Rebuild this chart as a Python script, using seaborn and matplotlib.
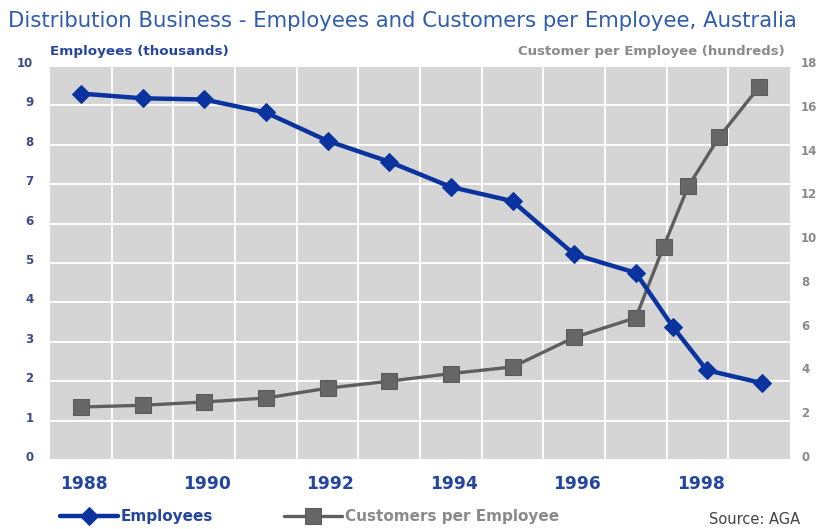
import matplotlib
matplotlib.use("Agg")
import matplotlib.pyplot as plt
import matplotlib.transforms as mtransforms
import seaborn as sns
import pandas as pd
import numpy as np

# Employees (thousands), left axis
emp_years = [1988, 1989, 1990, 1991, 1992, 1993, 1994, 1995, 1996, 1997, 1997.6, 1998.15, 1999.05]
employees = [9.3, 9.18, 9.15, 8.82, 8.1, 7.57, 6.93, 6.57, 5.22, 4.75, 3.38, 2.28, 1.95]

# Customers per employee (hundreds), right axis
cust_years = [1988, 1989, 1990, 1991, 1992, 1993, 1994, 1995, 1996, 1997, 1997.45, 1997.85, 1998.35, 1999.0]
customers = [2.42, 2.5, 2.65, 2.83, 3.28, 3.6, 3.95, 4.25, 5.6, 6.5, 9.75, 12.5, 14.75, 17.05]

year_ticks = [1988, 1990, 1992, 1994, 1996, 1998]
left_ticks = list(range(0, 11))
right_ticks = list(range(0, 19, 2))

BLUE = "#0a33a0"
GREY = "#5e5e5e"
FONT = ["DejaVu Sans"]

sns.set_style("white")
plt.rcParams["font.family"] = FONT

fig = plt.figure(figsize=(8.2, 5.29), dpi=100)
rect = [50 / 820, 1 - 460 / 529, 740 / 820, 394 / 529]

# background panel with the grid
bg = fig.add_axes(rect, zorder=0)
bg.set_facecolor("#d5d5d5")
bg.set_xlim(1987.5, 1999.5)
bg.set_ylim(0, 10)
bg.set_xticks(np.arange(1988.5, 1999.5, 1))
bg.set_yticks(left_ticks)
bg.grid(True, color="white", lw=1.4)
bg.tick_params(length=0, labelbottom=False, labelleft=False)
for s in bg.spines.values():
    s.set_visible(False)

# customers (right scale) below, employees (left scale) on top
ax2 = fig.add_axes(rect, zorder=1)
ax = fig.add_axes(rect, zorder=2)
for a in (ax, ax2):
    a.patch.set_visible(False)
    a.grid(False)
    for s in a.spines.values():
        s.set_visible(False)

emp_df = pd.DataFrame({"year": emp_years, "value": employees})
cust_df = pd.DataFrame({"year": cust_years, "value": customers})

sns.lineplot(data=cust_df, x="year", y="value", ax=ax2, color=GREY, lw=2.4,
             marker="s", markersize=12, markeredgecolor="#5a5a5a",
             markerfacecolor="#666666", legend=False)
sns.lineplot(data=emp_df, x="year", y="value", ax=ax, color=BLUE, lw=3.2,
             marker="D", markersize=9, markeredgecolor=BLUE,
             markerfacecolor=BLUE, legend=False)

ax.set_xlim(1987.5, 1999.5)
ax2.set_xlim(1987.5, 1999.5)
ax.set_ylim(0, 10)
ax2.set_ylim(0, 18)

ax.set_xticks(year_ticks)
ax.set_yticks(left_ticks)
ax2.set_xticks([])
ax2.set_yticks(right_ticks)
ax2.yaxis.tick_right()

for a in (ax, ax2):
    a.set_xlabel("")
    a.set_ylabel("")

ax.tick_params(axis="x", length=0, pad=11, labelsize=12.3, labelcolor="#2446a0")
ax.tick_params(axis="y", length=0, pad=12, labelsize=8.5, labelcolor="#3a4a8a")
ax2.tick_params(axis="y", length=0, pad=8, labelsize=8.5, labelcolor="#8a8a8a")

shift_x = mtransforms.ScaledTranslation(3 / 100, 0, fig.dpi_scale_trans)
shift_up = mtransforms.ScaledTranslation(0, 4 / 100, fig.dpi_scale_trans)
for t in ax.get_xticklabels():
    t.set_fontweight("bold")
    t.set_transform(t.get_transform() + shift_x)
for t in ax.get_yticklabels() + ax2.get_yticklabels():
    t.set_fontweight("bold")
    t.set_transform(t.get_transform() + shift_up)

fig.text(8 / 820, 1 - 21 / 529,
         "Distribution Business - Employees and Customers per Employee, Australia",
         fontsize=15.3, color="#2f5cae", va="center", ha="left")
fig.text(50 / 820, 1 - 51 / 529, "Employees (thousands)", fontsize=9.7,
         fontweight="bold", color="#2446a0", va="center", ha="left")
fig.text(785 / 820, 1 - 51 / 529, "Customer per Employee (hundreds)", fontsize=9.5,
         fontweight="bold", color="#8a8a8a", va="center", ha="right")

h_emp = ax.get_lines()[0]
h_cust = ax2.get_lines()[0]
leg = fig.legend([h_emp, h_cust], ["Employees", "Customers per Employee"],
                 loc="center left", bbox_to_anchor=(46 / 820, 1 - 517 / 529),
                 ncol=2, frameon=False, handlelength=3.8, handletextpad=0.2,
                 columnspacing=4.6, prop={"weight": "bold", "size": 11})
leg.get_texts()[0].set_color("#2446a0")
leg.get_texts()[1].set_color("#8a8a8a")

fig.text(800 / 820, 1 - 519 / 529, "Source: AGA", fontsize=10.5,
         color="#444444", va="center", ha="right")

fig.savefig("out.png", dpi=100, facecolor="white")
